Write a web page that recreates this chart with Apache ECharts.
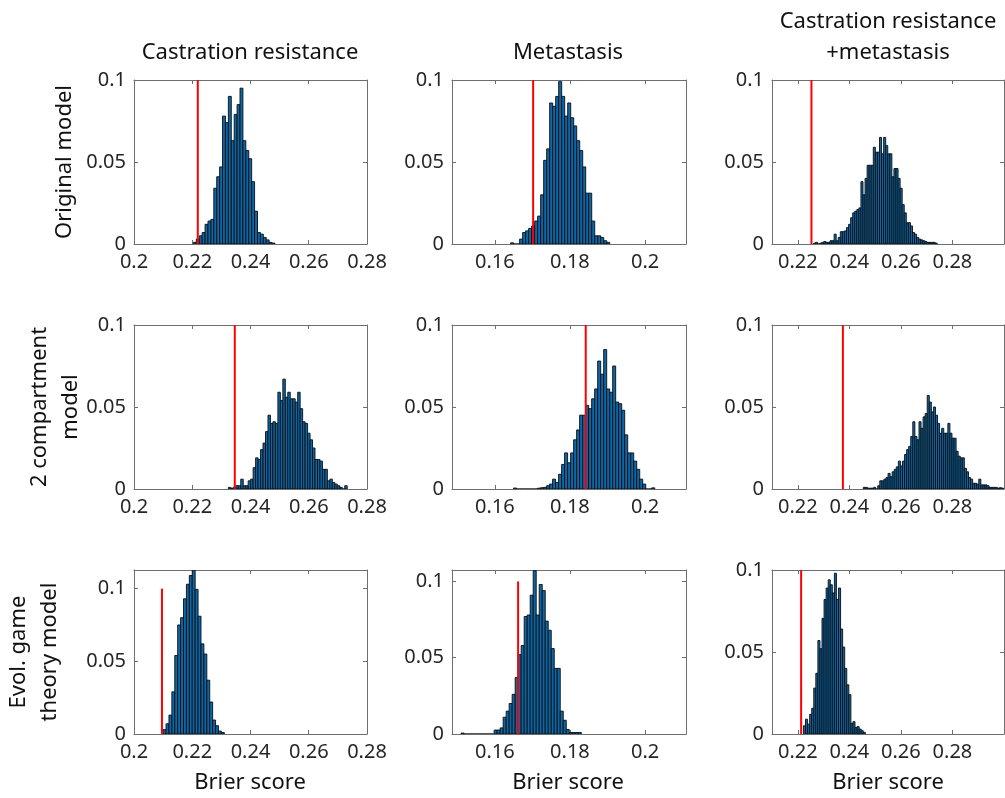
<!DOCTYPE html>
<html>
<head>
<meta charset="utf-8">
<script src="https://cdn.jsdelivr.net/npm/echarts@6/dist/echarts.min.js"></script>
<style>
  html, body { margin: 0; padding: 0; background: #fff; }
  #brier { width: 1005px; height: 798px; }
</style>
</head>
<body>
<div id="brier"></div>
<script>
// Brier score distributions (3 models x 3 endpoints), red line = observed score
const colTitles = ["Castration resistance", "Metastasis", "Castration resistance\n+metastasis"];
const rowTitles = ["Original model", "2 compartment\nmodel", "Evol. game\ntheory model"];
const xLabel = "Brier score";

const colMin = [0.2, 0.1486, 0.21];
const colMax = [0.28, 0.2109, 0.30];
const xTicks = [[0.2, 0.22, 0.24, 0.26, 0.28], [0.16, 0.18, 0.2], [0.22, 0.24, 0.26, 0.28]];
const yTicks = [0, 0.05, 0.1];
const yMax = [0.1, 0.1, 0.1, 0.1, 0.1, 0.1, 0.1128, 0.1075, 0.1];

const observed = [0.2219, 0.1702, 0.2253, 0.2346, 0.1842, 0.2375, 0.2096, 0.1662, 0.2213];
const binStart = [0.2204, 0.1642, 0.2261, 0.2324, 0.16498, 0.24542, 0.2100, 0.15102, 0.2222];
const binWidth = [0.001, 0.0008, 0.0008, 0.00085, 0.0008, 0.0008, 0.001, 0.0008, 0.0008];

const origCR = [0.001, 0.003, 0.005, 0.007, 0.012, 0.014, 0.015, 0.034, 0.041, 0.047, 0.078, 0.074,
  0.090, 0.063, 0.079, 0.085, 0.095, 0.063, 0.057, 0.052, 0.038, 0.020, 0.007, 0.006, 0.004, 0.0025,
  0.001, 0.0005];
const origMet = [0.0007, 0, 0, 0.003, 0.007, 0.008, 0.0095, 0.011, 0.014, 0.017, 0.030, 0.051, 0.058,
  0.086, 0.084, 0.090, 0.099, 0.090, 0.078, 0.086, 0.077, 0.072, 0.063, 0.057, 0.047, 0.031, 0.031,
  0.014, 0.005, 0.005, 0.004, 0.002, 0.001];
const origBoth = [0.0005, 0.001, 0, 0.0005, 0.001, 0.0015, 0.001, 0.001, 0.002, 0.002, 0.006, 0.002,
  0.004, 0.0075, 0.0075, 0.008, 0.010, 0.012, 0.016, 0.019, 0.020, 0.021, 0.022, 0.038, 0.030, 0.040,
  0.048, 0.048, 0.048, 0.059, 0.056, 0.056, 0.065, 0.055, 0.065, 0.060, 0.055, 0.055, 0.041, 0.046,
  0.046, 0.040, 0.034, 0.024, 0.019, 0.013, 0.013, 0.011, 0.007, 0.006, 0.004, 0.003, 0.0025, 0.002,
  0.0015, 0.001, 0.001, 0.001, 0.001, 0.0005];
const twoCR = [0.001, 0.0005, 0.001, 0.002, 0.002, 0.006, 0.002, 0.002, 0.005, 0.006, 0.013, 0.019,
  0.018, 0.024, 0.028, 0.035, 0.045, 0.040, 0.041, 0.040, 0.059, 0.054, 0.067, 0.056, 0.059, 0.055,
  0.055, 0.053, 0.059, 0.049, 0.041, 0.040, 0.034, 0.030, 0.025, 0.018, 0.018, 0.017, 0.012, 0.012,
  0.005, 0.006, 0.004, 0.003, 0.002, 0.001, 0, 0.002];
const twoMet = [0.0006, 0, 0, 0, 0, 0, 0, 0, 0.0005, 0.0008, 0.001, 0.002, 0.003, 0.006, 0.004, 0.009,
  0.015, 0.022, 0.016, 0.022, 0.030, 0.036, 0.045, 0.045, 0.051, 0.049, 0.055, 0.061, 0.078, 0.070,
  0.085, 0.061, 0.059, 0.075, 0.053, 0.052, 0.048, 0.033, 0.022, 0.022, 0.017, 0.012, 0.006, 0.003,
  0, 0, 0.0007];
const twoBoth = [0.001, 0.001, 0.0005, 0.0005, 0.0005, 0.001, 0, 0.002, 0.005, 0.005, 0.006, 0.007,
  0.0095, 0.0075, 0.0105, 0.012, 0.0135, 0.017, 0.014, 0.017, 0.021, 0.024, 0.026, 0.032, 0.041, 0.032,
  0.030, 0.041, 0.037, 0.044, 0.046, 0.057, 0.053, 0.047, 0.050, 0.045, 0.040, 0.034, 0.037, 0.034,
  0.034, 0.040, 0.034, 0.031, 0.031, 0.023, 0.020, 0.019, 0.019, 0.0126, 0.0105, 0.007, 0.006, 0.0035,
  0.0035, 0.003, 0.006, 0.0025, 0.0025, 0.0025, 0.002, 0.001, 0.001, 0.001, 0.001, 0.0005, 0.0008,
  0.0005];
const evoCR = [0.003, 0.007, 0.013, 0.029, 0.054, 0.075, 0.080, 0.093, 0.103, 0.109, 0.1128, 0.0995,
  0.081, 0.062, 0.055, 0.037, 0.022, 0.0096, 0.0057, 0.002, 0.001];
const evoMet = [0.0006, 0, 0, 0, 0, 0, 0, 0, 0, 0, 0, 0.0026, 0.0026, 0.004, 0.011, 0.015, 0.020, 0.026,
  0.037, 0.052, 0.058, 0.077, 0.078, 0.091, 0.107, 0.078, 0.098, 0.094, 0.074, 0.068, 0.056, 0.043,
  0.043, 0.015, 0.009, 0.003, 0.001, 0.001, 0.001, 0.001];
const evoBoth = [0.005, 0.009, 0.006, 0.012, 0.0157, 0.028, 0.037, 0.057, 0.052, 0.0705, 0.082, 0.089,
  0.094, 0.091, 0.086, 0.098, 0.082, 0.089, 0.064, 0.053, 0.040, 0.030, 0.024, 0.0065, 0.0075, 0.004,
  0.0045, 0.003, 0.002, 0.001];

const heights = [origCR, origMet, origBoth, twoCR, twoMet, twoBoth, evoCR, evoMet, evoBoth];

// layout (pixels)
const gridLeft = [134, 452, 772];
const gridWidth = [233, 234, 232];
const gridTop = [80, 325, 570];
const gridHeight = 164;

const FONT = "Noto Sans";
const frameColor = "#6e6e6e";
const tickText = "#262626";

const grids = [], xAxes = [], yAxes = [], series = [];

const fmt = (v) => String(Math.round(v * 100) / 100);

for (let p = 0; p < 9; p++) {
  const c = p % 3, r = Math.floor(p / 3);
  grids.push({
    left: gridLeft[c], top: gridTop[r], width: gridWidth[c], height: gridHeight,
    outerBoundsMode: "none", containLabel: false
  });

  const lineStyle = { color: frameColor, width: 1 };
  const xBase = {
    type: "value", gridIndex: p, min: colMin[c], max: colMax[c],
    splitLine: { show: false },
    axisLine: { show: true, onZero: false, lineStyle },
    axisTick: { show: true, inside: true, length: 4, customValues: xTicks[c], lineStyle }
  };
  xAxes.push(Object.assign({}, xBase, {
    position: "bottom",
    axisLabel: {
      show: true, customValues: xTicks[c], formatter: fmt,
      color: tickText, fontSize: 20, fontFamily: FONT, margin: 8
    }
  }));
  xAxes.push(Object.assign({}, xBase, { position: "top", axisLabel: { show: false } }));

  const yBase = {
    type: "value", gridIndex: p, min: 0, max: yMax[p],
    splitLine: { show: false },
    axisLine: { show: true, onZero: false, lineStyle },
    axisTick: { show: true, inside: true, length: 4, customValues: yTicks, lineStyle }
  };
  yAxes.push(Object.assign({}, yBase, {
    position: "left",
    axisLabel: {
      show: true, customValues: yTicks, formatter: fmt,
      color: tickText, fontSize: 20, fontFamily: FONT, margin: 8
    }
  }));
  yAxes.push(Object.assign({}, yBase, { position: "right", axisLabel: { show: false } }));

  const w = binWidth[p], s0 = binStart[p];
  const bins = heights[p].map((h, i) => [s0 + i * w, s0 + (i + 1) * w, h]);

  series.push({
    type: "custom",
    xAxisIndex: 2 * p,
    yAxisIndex: 2 * p,
    clip: true,
    animation: false,
    silent: true,
    encode: { x: [0, 1], y: 2 },
    data: bins,
    renderItem: (params, api) => {
      const a = api.coord([api.value(0), api.value(2)]);
      const b = api.coord([api.value(1), 0]);
      return {
        type: "rect",
        shape: { x: a[0], y: a[1], width: b[0] - a[0], height: b[1] - a[1] },
        style: { fill: "#0a68aa", stroke: "#0c0c0c", lineWidth: 0.9 }
      };
    }
  });

  series.push({
    type: "line",
    xAxisIndex: 2 * p,
    yAxisIndex: 2 * p,
    data: [[observed[p], 0], [observed[p], 0.1]],
    symbol: "none",
    silent: true,
    animation: false,
    z: 5,
    lineStyle: { color: "#ff0000", width: 2 }
  });
}

const textStyle = (text) => ({
  text, align: "center", verticalAlign: "middle",
  font: "22px '" + FONT + "'", fill: "#111", lineHeight: 31
});

const graphics = [];
const colCenter = [250, 568, 888];
colTitles.forEach((t, c) => {
  graphics.push({ type: "text", x: colCenter[c], y: c === 2 ? 37 : 53, style: textStyle(t) });
  graphics.push({ type: "text", x: colCenter[c], y: 783, style: textStyle(xLabel) });
});
const rowX = [65, 55, 34];
rowTitles.forEach((t, r) => {
  graphics.push({
    type: "text", x: rowX[r], y: gridTop[r] + gridHeight / 2, rotation: Math.PI / 2,
    style: textStyle(t)
  });
});

const option = {
  backgroundColor: "#fff",
  animation: false,
  grid: grids,
  xAxis: xAxes,
  yAxis: yAxes,
  series: series,
  graphic: graphics
};

const chart = echarts.init(document.getElementById("brier"));
chart.setOption(option);
window.addEventListener("resize", () => chart.resize());
</script>
</body>
</html>
